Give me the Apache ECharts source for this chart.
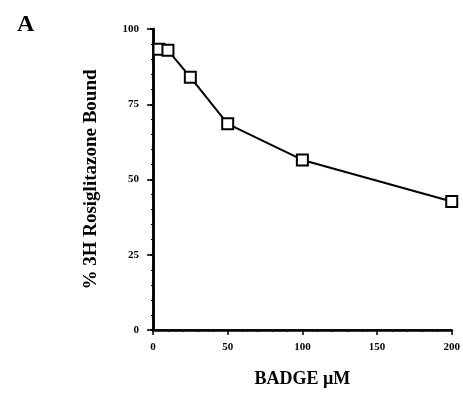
<!DOCTYPE html>
<html><head><meta charset="utf-8">
<script src="https://cdn.jsdelivr.net/npm/echarts@6/dist/echarts.min.js"></script>
<style>html,body{margin:0;padding:0;background:#fff}#c{width:463px;height:394px}</style>
</head><body><div id="c"></div>
<script>
var xValues = [4, 10, 25, 50, 100, 200];
var yValues = [93.3, 92.9, 84.0, 68.5, 56.5, 42.7];
var xTicks = [0, 50, 100, 150, 200];
var yTicks = [0, 25, 50, 75, 100];
var panelLabel = 'A';
var xTitle = 'BADGE µM';
var yTitle = '% 3H Rosiglitazone Bound';

var font = "'Liberation Serif', 'DejaVu Serif', serif";
var chart = echarts.init(document.getElementById('c'));
var pts = xValues.map(function (x, i) { return [x, yValues[i]]; });
chart.setOption({
  animation: false,
  backgroundColor: '#fff',
  title: { text: panelLabel, left: 12, top: 8, textStyle: { fontFamily: font, fontWeight: 'bold', fontSize: 24, color: '#000' } },
  grid: { left: 153, right: 11, top: 29, bottom: 64 },
  xAxis: [{
    type: 'value', min: xTicks[0], max: xTicks[xTicks.length - 1], interval: 50,
    name: xTitle, nameLocation: 'middle', nameGap: 40,
    nameTextStyle: { fontFamily: font, fontWeight: 'bold', fontSize: 18, color: '#000' },
    axisLine: { onZero: false, lineStyle: { color: '#000', width: 2.5 } },
    axisTick: { show: true, length: 5, lineStyle: { color: '#000', width: 1.5 } },
    minorTick: { show: true, splitNumber: 5, length: 2, lineStyle: { color: '#000', width: 1 } },
    axisLabel: { fontFamily: font, fontWeight: 'bold', fontSize: 11, color: '#000', margin: 12 },
    splitLine: { show: false }
  }, {
    type: 'value', position: 'top', min: 0, max: 200, interval: 50,
    axisLine: { show: true, lineStyle: { color: '#000', width: 1.5 } },
    axisTick: { show: false }, axisLabel: { show: false }, splitLine: { show: false }
  }],
  yAxis: [{
    type: 'value', min: yTicks[0], max: yTicks[yTicks.length - 1], interval: 25,
    name: yTitle, nameLocation: 'middle', nameGap: 52, nameRotate: 90,
    nameTextStyle: { fontFamily: font, fontWeight: 'bold', fontSize: 19, color: '#000' },
    axisLine: { onZero: false, lineStyle: { color: '#000', width: 2.5 } },
    axisTick: { show: true, length: 6, lineStyle: { color: '#000', width: 1.5 } },
    minorTick: { show: true, splitNumber: 5, length: 2, lineStyle: { color: '#000', width: 1 } },
    axisLabel: { fontFamily: font, fontWeight: 'bold', fontSize: 11, color: '#000', margin: 14 },
    splitLine: { show: false }
  }, {
    type: 'value', position: 'right', min: 0, max: 100, interval: 25,
    axisLine: { show: true, lineStyle: { color: '#000', width: 2.5 } },
    axisTick: { show: true, inside: true, length: 3, lineStyle: { color: '#000', width: 1.5 } },
    axisLabel: { show: false }, splitLine: { show: false }
  }],
  series: [{
    type: 'line', data: pts, xAxisIndex: 0, yAxisIndex: 0,
    symbol: 'rect', symbolSize: 11, showAllSymbol: true,
    lineStyle: { color: '#000', width: 2 },
    itemStyle: { color: '#fff', borderColor: '#000', borderWidth: 2 }
  }]
});
</script></body></html>
